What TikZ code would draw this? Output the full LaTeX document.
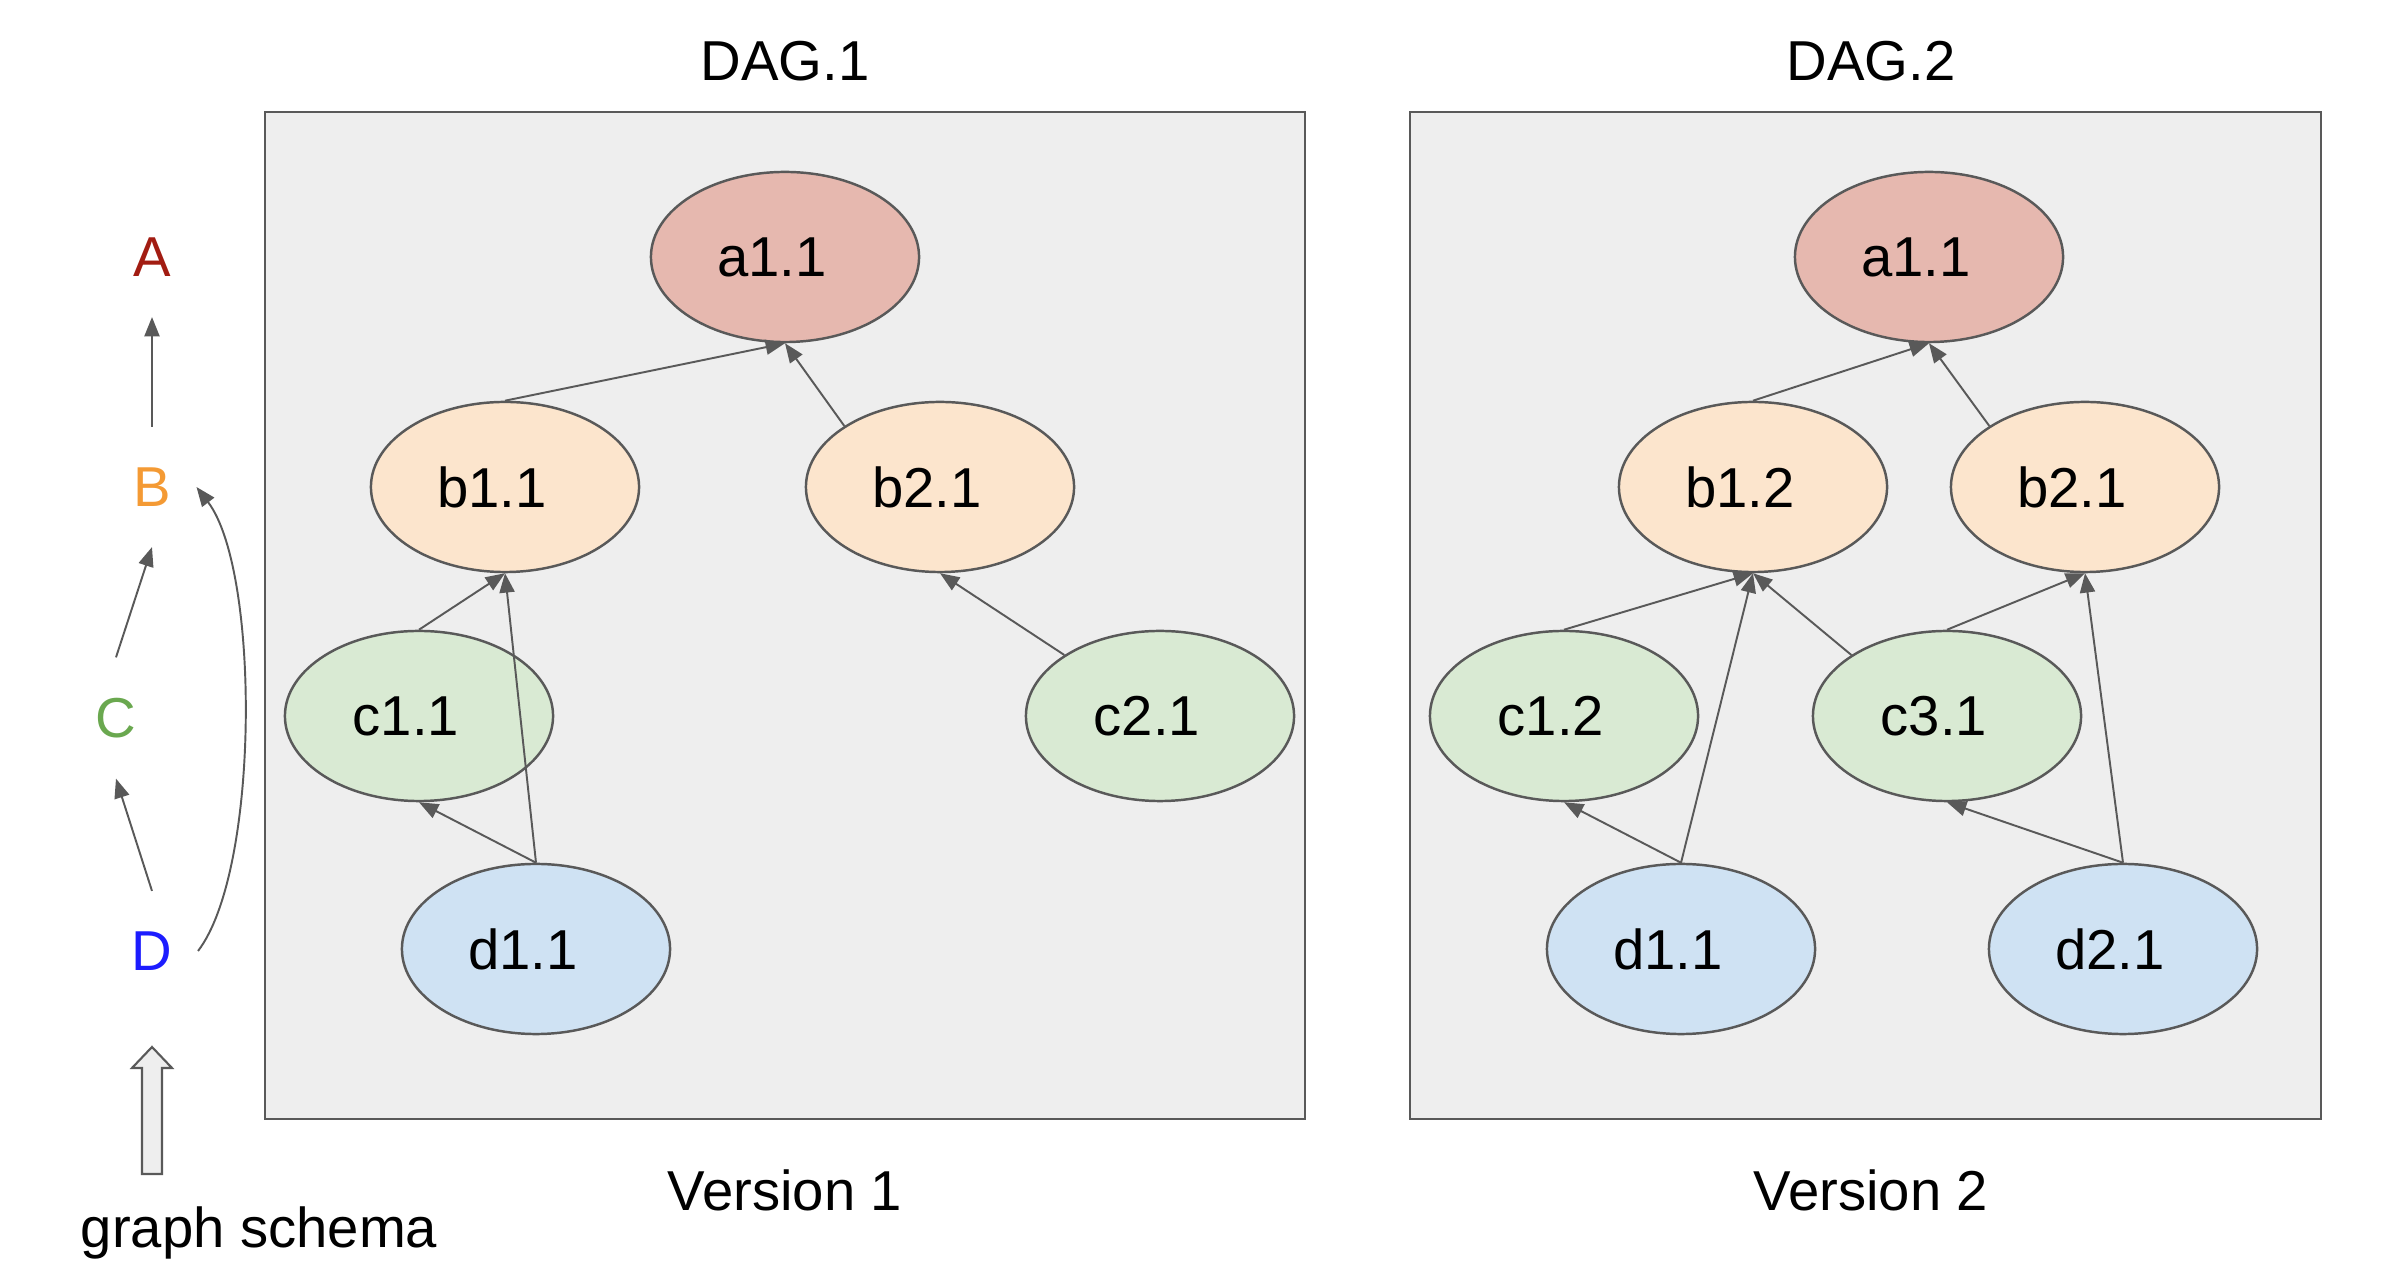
\documentclass[tikz,border=0pt]{standalone}
\usepackage{fontspec}
\setmainfont{Liberation Sans}
\usetikzlibrary{arrows.meta,shapes.geometric}
\definecolor{linegray}{HTML}{595959}
\definecolor{boxgray}{HTML}{EEEEEE}
\definecolor{afill}{HTML}{E6B8AF}
\definecolor{bfill}{HTML}{FCE5CD}
\definecolor{cfill}{HTML}{D9EAD3}
\definecolor{dfill}{HTML}{CFE2F3}
\definecolor{schemaA}{HTML}{A21C12}
\definecolor{schemaB}{HTML}{F49A34}
\definecolor{schemaC}{HTML}{6AA84F}
\definecolor{schemaD}{HTML}{1C1CFF}

\begin{document}
\begin{tikzpicture}[x=0.01cm, y=-0.01cm,
    font=\fontsize{16}{19}\selectfont,
    vertex/.style={ellipse, draw=linegray, line width=0.7pt,
        minimum width=2.68cm, minimum height=1.7cm, inner sep=0pt,
        execute at end node=\hspace{0.26cm}},
    avertex/.style={vertex, fill=afill},
    bvertex/.style={vertex, fill=bfill},
    cvertex/.style={vertex, fill=cfill},
    dvertex/.style={vertex, fill=dfill},
    letter/.style={inner xsep=0.25cm, inner ysep=0.4cm},
    edge/.style={draw=linegray, line width=0.55pt, -{Triangle[length=5.5pt,width=4.3pt]}},
    panel/.style={draw=linegray, fill=boxgray, line width=0.7pt}]

    \useasboundingbox (0,0) rectangle (2400,1280);

    % schema on the left
    \node [letter, text=schemaA] (A) at (152,257) {A};
    \node [letter, text=schemaB] (B) at (152,487) {B};
    \node [letter, text=schemaC] (C) at (116,718) {C};
    \node [letter, text=schemaD] (D) at (152,951) {D};

    \draw [edge] (B.north) -- (A.south);
    \draw [edge] (C.north) -- (B.south);
    \draw [edge] (D.north) -- (C.south);
    \draw [edge] (D.east) .. controls (260,870) and (260,570) .. (B.east);

    \draw [draw=linegray, fill=boxgray, line width=0.6pt]
        (152,1047) -- (172,1068) -- (162,1068) -- (162,1174)
        -- (142,1174) -- (142,1068) -- (132,1068) -- cycle;
    \node (schema) at (259,1233) {graph schema};

    % version 1
    \draw [panel] (265,112) rectangle (1305,1119);
    \node (title1)   at (785,61)   {DAG.1};
    \node (version1) at (785,1190) {Version 1};

    \node [avertex] (a11) at (785,257) {a1.1};
    \node [bvertex] (b11) at (505,487) {b1.1};
    \node [bvertex] (b21) at (940,487) {b2.1};
    \node [cvertex] (c11) at (419,716) {c1.1};
    \node [cvertex] (c21) at (1160,716) {c2.1};
    \node [dvertex] (d11) at (536,949) {d1.1};

    \draw [edge] (b11.north) -- (a11.south);
    \draw [edge] (b21.north west) -- (a11.south);
    \draw [edge] (c11.north) -- (b11.south);
    \draw [edge] (d11.north) -- (b11.south);
    \draw [edge] (d11.north) -- (c11.south);
    \draw [edge] (c21.north west) -- (b21.south);

    % version 2
    \draw [panel] (1410,112) rectangle (2321,1119);
    \node (title2)   at (1871,61)   {DAG.2};
    \node (version2) at (1871,1190) {Version 2};

    \node [avertex] (a11two) at (1929,257) {a1.1};
    \node [bvertex] (b12two) at (1753,487) {b1.2};
    \node [bvertex] (b21two) at (2085,487) {b2.1};
    \node [cvertex] (c12two) at (1564,716) {c1.2};
    \node [cvertex] (c31two) at (1947,716) {c3.1};
    \node [dvertex] (d11two) at (1681,949) {d1.1};
    \node [dvertex] (d21two) at (2123,949) {d2.1};

    \draw [edge] (b12two.north) -- (a11two.south);
    \draw [edge] (b21two.north west) -- (a11two.south);
    \draw [edge] (c12two.north) -- (b12two.south);
    \draw [edge] (c31two.north west) -- (b12two.south);
    \draw [edge] (c31two.north) -- (b21two.south);
    \draw [edge] (d11two.north) -- (c12two.south);
    \draw [edge] (d11two.north) -- (b12two.south);
    \draw [edge] (d21two.north) -- (c31two.south);
    \draw [edge] (d21two.north) -- (b21two.south);
\end{tikzpicture}
\end{document}
